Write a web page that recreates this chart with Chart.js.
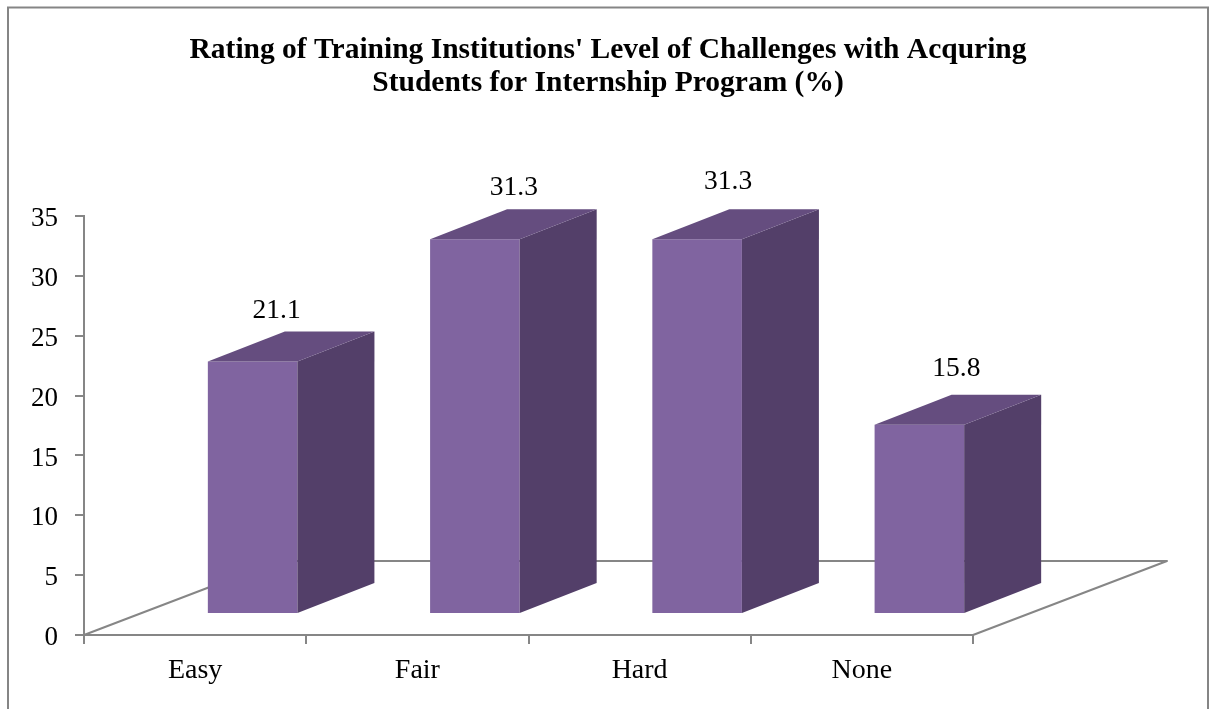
<!DOCTYPE html>
<html><head><meta charset="utf-8">
<style>html,body{margin:0;padding:0;background:#fff}canvas{display:block}</style>
<script src="https://cdn.jsdelivr.net/npm/chart.js@4"></script></head>
<body><div style="width:1209px;height:709px"><canvas id="c" width="1209" height="709"></canvas></div>
<script>
const categories = ['Easy','Fair','Hard','None'];
const values = [21.1,31.3,31.3,15.8];
const titleLines = ["Rating of Training Institutions' Level of Challenges with Acquring","Students for Internship Program (%)"];

const FONT = '"Liberation Serif","Times New Roman",serif';
const AXIS = '#868686';
const front={x:57.5,y:-21}, depth={x:77,y:-30}, floor={x:194,y:-74};
const labelNudge=[{x:24,y:-52},{x:39,y:-53},{x:31,y:-59},{x:37,y:-57}];

function poly(ctx,pts,fill){ctx.beginPath();pts.forEach((p,i)=>i?ctx.lineTo(p[0],p[1]):ctx.moveTo(p[0],p[1]));ctx.closePath();ctx.fillStyle=fill;ctx.fill();}

const threeD={id:'threeD',
  beforeDraw(chart){const c=chart.ctx;c.save();c.strokeStyle='#858585';c.lineWidth=2;c.beginPath();
    c.moveTo(8,709);c.lineTo(8,7.5);c.lineTo(1208,7.5);c.lineTo(1208,709);c.stroke();c.restore();},
  beforeDatasetsDraw(chart){const c=chart.ctx,a=chart.chartArea;c.save();c.strokeStyle=AXIS;c.lineWidth=2;c.lineJoin='round';c.beginPath();
    c.moveTo(a.left,a.bottom);c.lineTo(a.left+floor.x,a.bottom+floor.y);c.lineTo(a.right+floor.x,a.bottom+floor.y);c.lineTo(a.right,a.bottom);c.stroke();c.restore();},
  beforeDatasetDraw(chart){const c=chart.ctx;c.save();c.translate(front.x,front.y);},
  afterDatasetDraw(chart,args){const c=chart.ctx;c.restore();c.save();
    args.meta.data.forEach((b,i)=>{
      const l=b.x-b.width/2+front.x,r=b.x+b.width/2+front.x,t=b.y+front.y,bt=b.base+front.y;
      poly(c,[[r,t],[r+depth.x,t+depth.y],[r+depth.x,bt+depth.y],[r,bt]],'#533F69');
      poly(c,[[l,t],[l+depth.x,t+depth.y],[r+depth.x,t+depth.y],[r,t]],'#654D7F');
      c.fillStyle='#000';c.font='27.5px '+FONT;c.textAlign='center';c.textBaseline='middle';
      c.fillText(values[i].toFixed(1),b.x+front.x+labelNudge[i].x,b.y+front.y+labelNudge[i].y+1);
    });c.restore();}
};

new Chart(document.getElementById('c'),{
  type:'bar',
  data:{labels:categories,datasets:[{data:values,backgroundColor:'#8064A0',barPercentage:0.403,categoryPercentage:1,clip:false}]},
  plugins:[threeD],
  options:{responsive:false,animation:false,
    layout:{autoPadding:false,padding:{left:7,right:0,top:0,bottom:0}},
    plugins:{legend:{display:false},tooltip:{enabled:false},
      title:{display:true,text:titleLines,color:'#000',font:{family:FONT,size:29.5,weight:'bold',lineHeight:33/29.5},padding:{top:34,bottom:116}}},
    scales:{
      x:{grid:{drawOnChartArea:false,drawTicks:true,tickLength:9,color:AXIS,lineWidth:2},border:{color:AXIS,width:2},
        ticks:{color:'#000',font:{family:FONT,size:28},padding:10,maxRotation:0},
        afterFit(s){s.height=74;}},
      y:{min:0,max:35,grid:{drawOnChartArea:false,tickLength:9,color:AXIS,lineWidth:2},border:{color:AXIS,width:2},
        ticks:{stepSize:5,color:'#000',font:{family:FONT,size:27},padding:17,labelOffset:3},
        afterFit(s){s.width=77;}},
      r:{position:'right',display:true,grid:{display:false},border:{display:false},ticks:{display:false},
        afterFit(s){s.width=236;}}
    }
  }
});
</script></body></html>
